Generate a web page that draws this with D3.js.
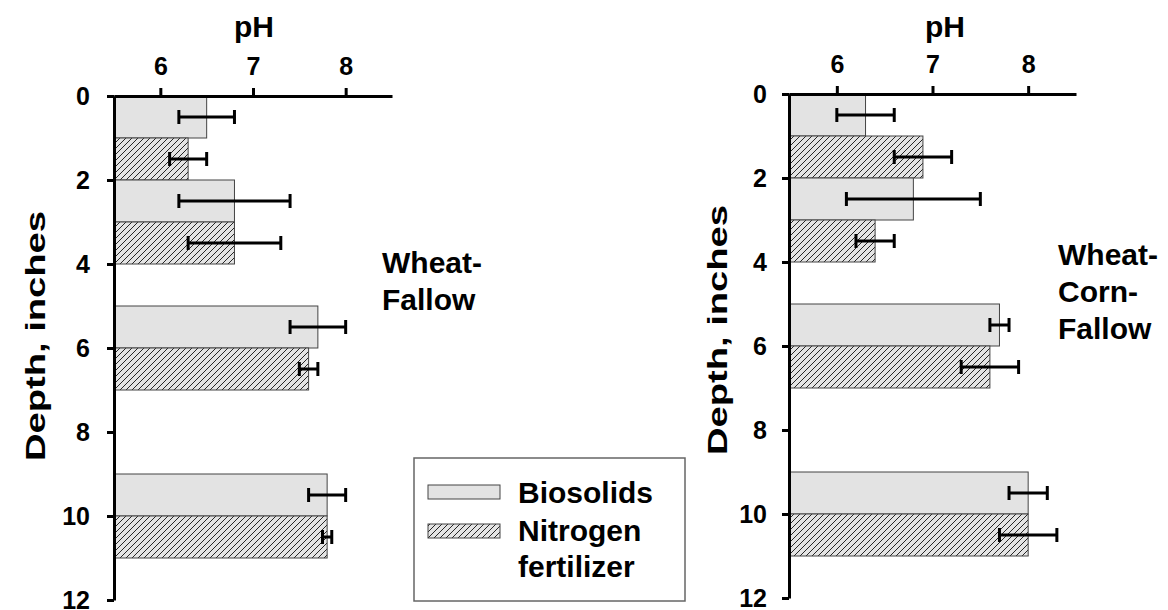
<!DOCTYPE html>
<html lang="en">
<head>
<meta charset="UTF-8">
<script src="https://cdn.jsdelivr.net/npm/d3@7"></script>
<title>Soil pH by depth</title>
<style>
    body { margin: 0; background: #fff; }
    svg text { font-family: "Liberation Sans", Arial, sans-serif; font-weight: bold; fill: #000; }
</style>
</head>
<body>
<script>
// each sampled layer is 2 inches: biosolids bar on top, nitrogen bar under it
const layerTop = [0, 2, 5, 9];
const depthTicks = [0, 2, 4, 6, 8, 10, 12];
const phTicks = [6, 7, 8];

// Wheat-Fallow
const wfBio = [6.5, 6.8, 7.7, 7.8];
const wfBioErr = [[6.2, 6.8], [6.2, 7.4], [7.4, 8.0], [7.6, 8.0]];
const wfN = [6.3, 6.8, 7.6, 7.8];
const wfNErr = [[6.1, 6.5], [6.3, 7.3], [7.5, 7.7], [7.75, 7.85]];

// Wheat-Corn-Fallow
const wcfBio = [6.3, 6.8, 7.7, 8.0];
const wcfBioErr = [[6.0, 6.6], [6.1, 7.5], [7.6, 7.8], [7.8, 8.2]];
const wcfN = [6.9, 6.4, 7.6, 8.0];
const wcfNErr = [[6.6, 7.2], [6.2, 6.6], [7.3, 7.9], [7.7, 8.3]];

const legendLabels = ["Biosolids", ["Nitrogen", "fertilizer"]];

const svg = d3.select("body").append("svg")
    .attr("width", 1168)
    .attr("height", 610);

// hatch for the nitrogen bars
const defs = svg.append("defs");
const pat = defs.append("pattern")
    .attr("id", "hatch")
    .attr("patternUnits", "userSpaceOnUse")
    .attr("width", 6)
    .attr("height", 6);
pat.append("rect").attr("width", 6).attr("height", 6).attr("fill", "#e4e4e4");
pat.append("path")
    .attr("d", "M0,6 L6,0 M-1,1 L1,-1 M5,7 L7,5")
    .attr("stroke", "#111")
    .attr("stroke-width", 0.9);

const bioFill = "#e3e3e3";

function drawPanel(p) {
    const x = d3.scaleLinear().domain([5.5, 8.5]).range([p.left, p.right]);
    const y = d3.scaleLinear().domain([0, 12]).range([p.top, p.bottom]);
    const g = svg.append("g");

    // bars
    const rows = [];
    layerTop.forEach((d, i) => {
        rows.push({ d0: d, v: p.bio[i], err: p.bioErr[i], fill: bioFill });
        rows.push({ d0: d + 1, v: p.n[i], err: p.nErr[i], fill: "url(#hatch)" });
    });

    g.selectAll("rect.bar")
        .data(rows)
        .enter()
        .append("rect")
        .attr("class", "bar")
        .attr("x", x(5.5))
        .attr("y", d => y(d.d0))
        .attr("width", d => x(d.v) - x(5.5))
        .attr("height", d => y(d.d0 + 1) - y(d.d0))
        .attr("fill", d => d.fill)
        .attr("stroke", "#444")
        .attr("stroke-width", 1);

    // error bars
    const eb = g.selectAll("g.err")
        .data(rows)
        .enter()
        .append("g")
        .attr("class", "err")
        .attr("stroke", "#000")
        .attr("stroke-width", 3);
    eb.append("line")
        .attr("x1", d => x(d.err[0])).attr("x2", d => x(d.err[1]))
        .attr("y1", d => y(d.d0 + 0.5)).attr("y2", d => y(d.d0 + 0.5));
    eb.append("line")
        .attr("x1", d => x(d.err[0])).attr("x2", d => x(d.err[0]))
        .attr("y1", d => y(d.d0 + 0.5) - 7).attr("y2", d => y(d.d0 + 0.5) + 7);
    eb.append("line")
        .attr("x1", d => x(d.err[1])).attr("x2", d => x(d.err[1]))
        .attr("y1", d => y(d.d0 + 0.5) - 7).attr("y2", d => y(d.d0 + 0.5) + 7);

    // axes
    const xAxis = g.append("g")
        .attr("transform", `translate(0,${p.top})`)
        .call(d3.axisTop(x).tickValues(phTicks).tickFormat(d3.format("d"))
            .tickSize(8).tickSizeOuter(0).tickPadding(13));
    const yAxis = g.append("g")
        .attr("transform", `translate(${p.left},0)`)
        .call(d3.axisLeft(y).tickValues(depthTicks).tickFormat(d3.format("d"))
            .tickSize(7).tickSizeOuter(0).tickPadding(p.yPad));
    [xAxis, yAxis].forEach(a => {
        a.selectAll("path, line").attr("stroke", "#000").attr("stroke-width", 3);
        a.selectAll("text").style("font-size", "25px").attr("fill", "#000");
        a.attr("font-family", null).attr("font-size", null);
    });
    yAxis.selectAll("text").attr("dy", "0.34em");

    // titles
    g.append("text")
        .attr("x", p.phX).attr("y", 37)
        .attr("text-anchor", "middle")
        .style("font-size", "30px")
        .text("pH");
    g.append("text")
        .attr("transform", `translate(${p.depthX},${p.depthY}) rotate(-90)`)
        .attr("text-anchor", "middle")
        .attr("textLength", 250)
        .attr("lengthAdjust", "spacingAndGlyphs")
        .style("font-size", "28px")
        .text("Depth, inches");
    g.append("g")
        .selectAll("text")
        .data(p.label)
        .enter()
        .append("text")
        .attr("x", p.labelX)
        .attr("y", (d, i) => p.labelY + i * 37)
        .style("font-size", "30px")
        .text(d => d);
}

drawPanel({
    left: 114, right: 392, top: 96, bottom: 600, yPad: 17,
    bio: wfBio, bioErr: wfBioErr, n: wfN, nErr: wfNErr,
    phX: 254, depthX: 45, depthY: 336,
    label: ["Wheat-", "Fallow"], labelX: 382, labelY: 273
});
drawPanel({
    left: 789, right: 1076, top: 94, bottom: 598, yPad: 15,
    bio: wcfBio, bioErr: wcfBioErr, n: wcfN, nErr: wcfNErr,
    phX: 945, depthX: 727, depthY: 330,
    label: ["Wheat-", "Corn-", "Fallow"], labelX: 1058, labelY: 265
});

// legend
const lg = svg.append("g");
lg.append("rect")
    .attr("x", 414).attr("y", 458)
    .attr("width", 271).attr("height", 143)
    .attr("fill", "#fff")
    .attr("stroke", "#666")
    .attr("stroke-width", 1.5);
lg.append("rect")
    .attr("x", 428).attr("y", 485).attr("width", 72).attr("height", 14)
    .attr("fill", bioFill).attr("stroke", "#444").attr("stroke-width", 1);
lg.append("rect")
    .attr("x", 428).attr("y", 524).attr("width", 72).attr("height", 14)
    .attr("fill", "url(#hatch)").attr("stroke", "#444").attr("stroke-width", 1);
lg.append("text")
    .attr("x", 518).attr("y", 503)
    .style("font-size", "30px")
    .text(legendLabels[0]);
lg.selectAll("text.n")
    .data(legendLabels[1])
    .enter()
    .append("text")
    .attr("class", "n")
    .attr("x", 518)
    .attr("y", (d, i) => 541 + i * 36)
    .style("font-size", "30px")
    .text(d => d);
</script>
</body>
</html>
